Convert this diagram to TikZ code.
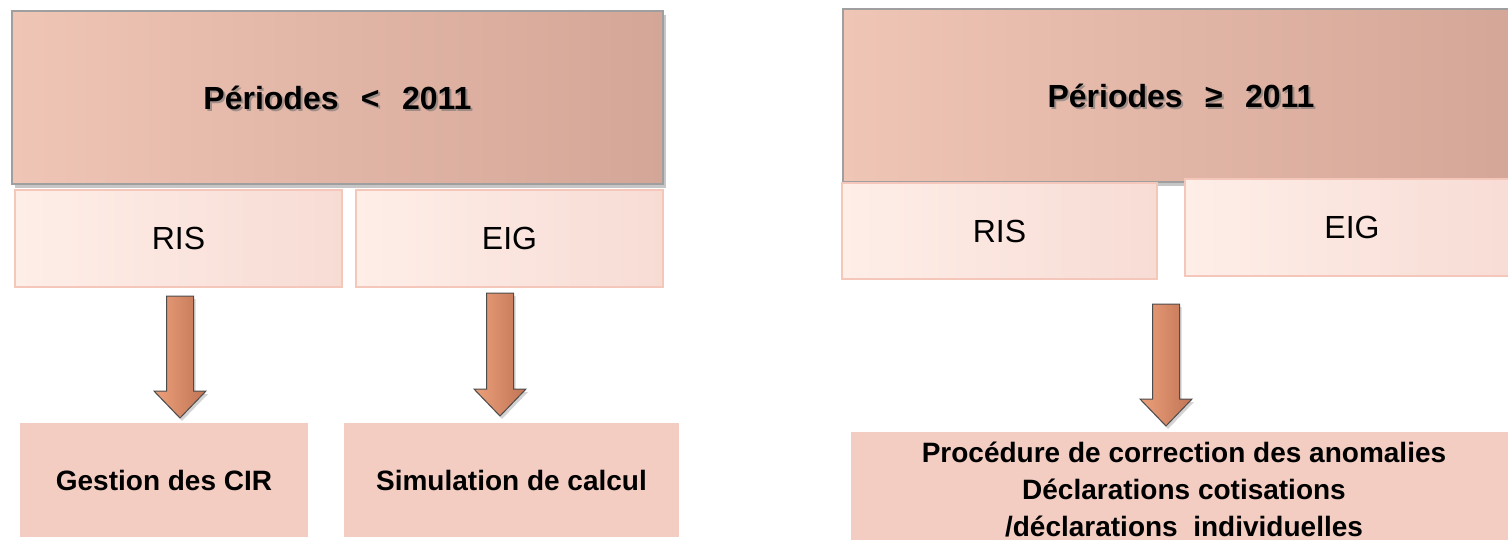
\documentclass[tikz,border=0pt]{standalone}
\usepackage{fontspec}
\setmainfont{Liberation Sans}
\usetikzlibrary{calc, shadows}

\definecolor{salmonL}{HTML}{EFC5B5}
\definecolor{salmonR}{HTML}{D4A697}
\definecolor{paleL}{HTML}{FEEEE8}
\definecolor{paleR}{HTML}{F7DCD4}
\definecolor{paleedge}{HTML}{F5C6BA}
\definecolor{resfill}{HTML}{F3CDC2}
\definecolor{arrL}{HTML}{EBA07A}
\definecolor{arrR}{HTML}{C27455}

\tikzset{bigbox/.style={draw=gray!75,line width=0.6pt,left color=salmonL,right color=salmonR,drop shadow={shadow xshift=1.5pt,shadow yshift=-2pt,opacity=0.45},inner sep=0pt}}
\tikzset{subbox/.style={draw=paleedge,line width=0.6pt,left color=paleL,right color=paleR,inner sep=0pt,font=\fontsize{16}{19}\selectfont}}
\tikzset{resbox/.style={fill=resfill,inner sep=0pt,align=center,font=\fontsize{14}{18.5}\selectfont\bfseries}}
\tikzset{titletext/.style={font=\fontsize{16}{19}\selectfont\bfseries}}
\tikzset{blockarr/.style={draw=gray!60!black,line width=0.5pt,left color=arrL,right color=arrR,drop shadow={shadow xshift=1pt,shadow yshift=-1.5pt,opacity=0.35}}}

% block arrow from #1 (tail) to #2 (tip), sizes in px
\newcommand{\blockarrow}[2]{%
  \path[blockarr] ($(#1)+(-13.5,0)$) -- ($(#1)+(13.5,0)$) -- ($(#2)+(13.5,-27)$) -- ($(#2)+(26,-27)$)
    -- (#2) -- ($(#2)+(-26,-27)$) -- ($(#2)+(-13.5,-27)$) -- cycle;}

\begin{document}
\begin{tikzpicture}[x=0.5pt,y=-0.5pt] % 1 unit = 1 px of the 1508x540 sheet
  \useasboundingbox (0,0) rectangle (1508,540);
  \clip (0,0) rectangle (1508,540);

  % left half: periods before 2011
  \node[bigbox,minimum width=325.5pt,minimum height=86.5pt] (per1) at (337.5,97.5) {};
  \node[titletext,text=black!55,opacity=0.6] at ($(per1)+(2,2.5)$) {Périodes\hspace{0.7em}<\hspace{0.7em}2011};
  \node[titletext] (per1t) at (per1) {Périodes\hspace{0.7em}<\hspace{0.7em}2011};

  \node[subbox,minimum width=163.5pt,minimum height=48.5pt] (ris1) at (178.5,238.5) {RIS};
  \node[subbox,minimum width=153.5pt,minimum height=48.5pt] (eig1) at (509.5,238.5) {EIG};

  \node[resbox,minimum width=144pt,minimum height=57pt] (cir1) at (164,480) {Gestion des CIR};
  \node[resbox,minimum width=167.5pt,minimum height=57pt] (sim1) at (511.5,480) {Simulation de calcul};

  \coordinate (a1s) at (180,296);
  \coordinate (a1e) at (180,418);
  \coordinate (a2s) at (500,293);
  \coordinate (a2e) at (500,416);
  \blockarrow{a1s}{a1e}
  \blockarrow{a2s}{a2e}

  % right half: periods from 2011 on
  \node[bigbox,minimum width=338pt,minimum height=86.5pt] (per2) at (1181,95.5) {};
  \node[titletext,text=black!55,opacity=0.6] at ($(per2)+(2,2.5)$) {Périodes\hspace{0.7em}≥\hspace{0.7em}2011};
  \node[titletext] (per2t) at (per2) {Périodes\hspace{0.7em}≥\hspace{0.7em}2011};

  \node[subbox,minimum width=157.5pt,minimum height=48pt] (ris2) at (999.5,231) {RIS};
  \node[subbox,minimum width=167pt,minimum height=48.5pt] (eig2) at (1352,227.5) {EIG};

  \node[resbox,minimum width=333pt,minimum height=58pt] (ano2) at (1184,490)
    {Procédure de correction des anomalies\\Déclarations cotisations\\/déclarations\ \ individuelles};

  \coordinate (a3s) at (1166,304);
  \coordinate (a3e) at (1166,426);
  \blockarrow{a3s}{a3e}
\end{tikzpicture}
\end{document}
